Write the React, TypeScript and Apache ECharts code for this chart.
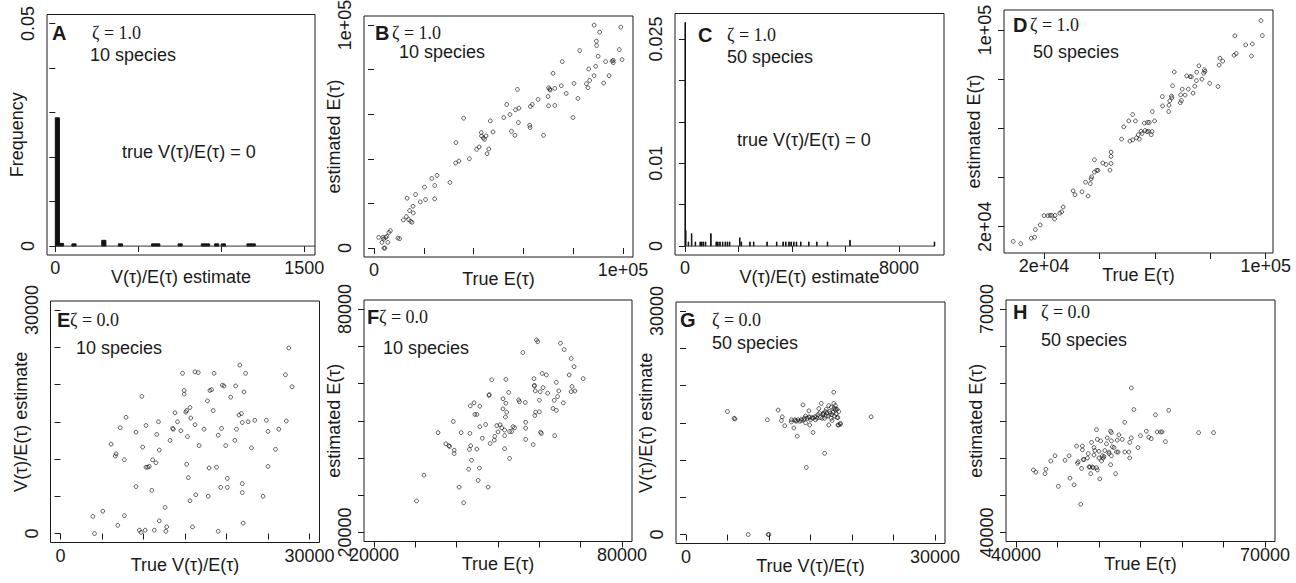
import React, { useEffect, useRef } from "react";
import * as echarts from "echarts";

const SANS = '"Liberation Sans", Arial, Helvetica, sans-serif';
const SERIF = '"Liberation Serif", "Times New Roman", serif';
const INK = "#1a1a1a";

// ---------- DATA ----------
// Panel A: histogram of V/E estimate (zeta=1.0, 10 species)
const histA_binWidth = 25;
const histA_start = [0, 25, 100, 280, 380, 580, 605, 740, 880, 905, 960, 1000, 1155, 1180];
const histA_density = [0.0288, 0.0006, 0.0005, 0.0013, 0.0005, 0.0005, 0.0005, 0.0005, 0.0005, 0.0005, 0.0005, 0.0005, 0.0005, 0.0005];
const histA_end = 1565;

// Panel C: histogram of V/E estimate (zeta=1.0, 50 species)
const histC_binWidth = 20;
const histC_start = [0, 20, 120, 240, 380, 560, 620, 680, 760, 960, 1160, 1220, 1300, 1400, 1500, 1580, 1660, 2040, 2100, 2420, 2560, 3060, 3420, 3660, 3760, 3880, 3960, 4060, 4160, 4320, 4620, 4920, 5320, 6160, 9320];
const histC_density = [0.027, 0.0019, 0.0005, 0.0015, 0.0005, 0.0005, 0.0005, 0.0005, 0.0005, 0.0015, 0.0005, 0.0005, 0.0005, 0.0005, 0.0005, 0.0005, 0.0005, 0.001, 0.0005, 0.0005, 0.0005, 0.0005, 0.0005, 0.0005, 0.0005, 0.0005, 0.0005, 0.0005, 0.0005, 0.0005, 0.0005, 0.0005, 0.0005, 0.0007, 0.0005];
const histC_end = 9340;

// Panel B: true E vs estimated E (zeta=1.0, 10 species)
const pointsB = [[1900,4800],[3200,2550],[3600,4800],[4000,0],[4400,0],[3900,4050],[4700,4800],[5200,5250],[5600,2550],[6000,7050],[6600,7800],[9600,4500],[10300,4200],[11800,12600],[13000,14100],[13300,22350],[13900,12750],[14300,16800],[14700,12000],[15300,11550],[15700,18750],[15800,15750],[16700,24000],[18600,20700],[20300,27300],[20700,21750],[23200,31200],[24400,22050],[24400,28050],[25300,32550],[30500,29400],[32800,38100],[32900,47250],[34100,39000],[36000,58200],[38300,40050],[41200,44250],[42200,45300],[43100,51750],[43200,50250],[43900,49350],[44400,48750],[45000,50250],[45400,42300],[46100,44400],[46700,57000],[47800,52050],[52100,58500],[53300,64350],[54600,59850],[55200,52350],[56600,50550],[56800,61950],[57600,71100],[58200,62700],[58000,56250],[62500,55050],[62700,54000],[62800,63450],[63600,64350],[65900,66600],[68100,50550],[69900,67950],[70100,71850],[70600,71250],[70100,63750],[70700,70800],[71900,78300],[72600,71550],[72600,63900],[75200,72750],[75600,83550],[77200,69300],[79900,58500],[80300,73800],[81900,67050],[82600,88500],[85300,73650],[85900,71850],[86200,80250],[86600,75150],[88400,77250],[88400,99900],[89000,81450],[89300,92700],[89400,90750],[90000,85950],[90600,96750],[92200,73950],[93000,83550],[94400,77250],[95600,83850],[96100,83100],[96100,84150],[98500,88950],[99100,99000],[99600,84450]];

// Panel D: true E vs estimated E (zeta=1.0, 50 species)
const pointsD = [[8900,14000],[11600,13100],[15400,15300],[16600,15700],[16900,18800],[18600,20700],[20000,24500],[21400,24500],[22200,24600],[22800,24600],[23800,23100],[24000,24600],[25700,25500],[26400,26000],[26900,28000],[30500,34600],[31200,33000],[33700,34200],[35000,38100],[35900,32500],[36700,37500],[37000,39400],[37200,40300],[38200,47200],[38200,42200],[39000,42900],[39500,42900],[41200,45900],[42400,45300],[43800,43000],[44200,45700],[44200,48600],[44200,50300],[48000,55600],[48800,60600],[50600,63000],[51000,54800],[52000,65600],[52000,55300],[53000,63000],[53400,56100],[54000,57400],[54400,55600],[55000,58800],[55400,57900],[56200,62100],[56500,59100],[57200,58600],[57400,62400],[57700,58800],[58000,62400],[58700,57400],[59000,58700],[59100,66800],[59900,63000],[62700,72900],[62800,69100],[65000,66800],[65100,69400],[65400,71200],[66000,73100],[66100,72400],[66400,77300],[67000,82900],[69200,70400],[69300,73600],[69600,71300],[69900,75900],[70900,73500],[71500,81300],[72100,75900],[72700,81000],[73200,81000],[73800,74300],[74400,77100],[75000,79400],[75100,82800],[75900,85400],[77000,80000],[77600,82400],[77900,83800],[78100,83100],[79800,78300],[82800,77000],[83200,85700],[83500,88500],[84500,87300],[88600,89700],[88900,97600],[89400,90400],[92800,93900],[94900,89400],[95200,94300],[98300,103800],[98800,97700]];

// Panel E: true V/E vs V/E estimate (zeta=0.0, 10 species)
const pointsE = [[3900,2300],[4100,0],[5100,3000],[6100,12000],[6600,10400],[6700,10700],[6900,1100],[7200,14200],[7700,9900],[7700,2400],[7900,15600],[9100,6300],[9100,13600],[9500,450],[9700,150],[9800,18400],[9900,11600],[10200,450],[10300,14500],[10300,8900],[10500,8900],[10700,9000],[11000,5800],[11100,9900],[11300,450],[11500,9500],[11600,13300],[11800,15000],[11900,11200],[11900,1700],[12600,3500],[12700,300],[12800,900],[13200,12500],[13500,14100],[13600,14000],[13800,16200],[14100,15000],[14500,13800],[14700,21500],[14900,19200],[14900,18700],[15100,16300],[15200,16500],[15300,13000],[15200,9300],[15400,7500],[15600,16900],[15600,4400],[15700,15500],[15900,900],[16200,14600],[16200,21700],[16300,5200],[16600,21600],[16700,11800],[17300,14000],[17700,17800],[17800,5000],[17900,8800],[18000,19200],[18200,19300],[18400,16500],[18500,21500],[19000,13200],[18800,8900],[19000,300],[19300,6200],[19400,14100],[19500,19900],[19700,19800],[19900,11800],[20100,7400],[20100,6200],[20500,18300],[21000,12500],[21100,19800],[21200,14000],[21500,15900],[21600,22600],[21800,16100],[21900,14900],[21900,6700],[21900,5500],[22000,1400],[22100,19000],[22300,21500],[22600,15000],[23000,11500],[23400,15200],[24400,5000],[24800,15200],[25000,13700],[25000,9000],[25900,11300],[26300,14000],[27100,21300],[27200,15100],[27500,24900],[27900,19700]];

// Panel F: true E vs estimated E (zeta=0.0, 10 species)
const pointsF = [[30300,28500],[32100,35400],[35500,46800],[37400,43800],[38100,43300],[38300,43100],[39200,49800],[39400,42100],[39400,41200],[40600,32200],[41100,46800],[41700,28000],[42900,37000],[43100,42300],[43200,46600],[43400,43300],[43600,39400],[43300,54000],[44200,54800],[44400,51700],[44900,51700],[44900,42400],[45200,34000],[45500,37300],[45600,53900],[45600,48400],[46200,45300],[47000,49000],[47600,32200],[47800,56800],[47900,57000],[48100,43900],[48500,61000],[49100,44800],[49200,45800],[49700,48700],[50000,47000],[50500,48900],[50900,48100],[51200,55900],[51200,53200],[51600,42500],[51600,46000],[51600,47500],[51800,51000],[51900,61100],[51900,54700],[52100,52300],[52600,57600],[52800,39900],[52800,47100],[53300,47100],[53600,48400],[54000,48100],[55000,55600],[55200,55100],[56000,68300],[56600,54900],[56700,49600],[56700,48000],[56700,45000],[58500,43600],[58700,61300],[58800,59500],[58800,59300],[58900,51400],[59000,58000],[59100,52300],[59300,71700],[59600,71200],[60000,52400],[60000,55500],[60200,57800],[60300,46900],[60500,46600],[60700,62700],[60900,58900],[61700,62300],[62000,57400],[63300,53300],[63700,46000],[63600,55500],[64100,60300],[64100,52800],[64400,56500],[64700,58000],[65100,70800],[65800,54800],[66000,69100],[67200,62300],[67700,57800],[67700,66700],[67900,59200],[68400,64500],[68600,58000],[70600,61300]];

// Panel G: true V/E vs V/E estimate (zeta=0.0, 50 species)
const pointsG = [[5000,16500],[5800,15600],[5900,15500],[7500,0],[9800,15400],[9900,0],[10000,0],[11100,16700],[11500,15300],[11600,15800],[11900,14600],[12700,15400],[12700,15100],[13000,14300],[13100,15400],[13200,15300],[13300,15200],[13400,13200],[13500,15400],[13700,15200],[13900,15500],[13900,15300],[14100,17400],[14200,15400],[14300,15600],[14400,15900],[14400,15000],[14500,9000],[14600,15600],[14800,16600],[14800,15800],[14900,15700],[14900,14700],[15000,15400],[15200,15700],[15300,13700],[15300,15600],[15500,15800],[15600,15400],[15700,15800],[15800,15600],[15900,16100],[16000,16900],[16100,16300],[16200,15700],[16300,17600],[16400,15600],[16500,16100],[16500,16200],[16600,16300],[16700,10900],[16700,15600],[16800,16500],[16900,15900],[16900,16800],[17000,16300],[17100,15900],[17200,14700],[17200,17300],[17300,16500],[17400,16300],[17500,15600],[17500,17100],[17600,16100],[17600,15300],[17700,16400],[17800,17600],[17800,19100],[17800,16900],[17900,15900],[18000,16900],[18000,16700],[18000,17300],[18100,16200],[18200,15700],[18200,16800],[18300,14700],[18300,15700],[18400,16500],[18400,14700],[18600,14800],[18600,14900],[22300,15800]];

// Panel H: true E vs estimated E (zeta=0.0, 50 species)
const pointsH = [[42100,48400],[42400,48100],[43500,47900],[43600,48500],[44200,49600],[44700,50300],[45100,46200],[45900,49700],[46400,50300],[46500,47300],[47000,46400],[47300,51600],[47400,49300],[47500,49500],[47800,43800],[47900,48600],[48000,51100],[48000,51600],[48100,49800],[48200,49800],[48600,50000],[48700,50600],[48800,48800],[48900,48800],[49000,47900],[49100,52100],[49200,48800],[49300,48700],[49400,50400],[49400,51400],[49500,51000],[49700,53800],[49700,48700],[49800,52500],[49800,48400],[50000,50000],[50000,50900],[50100,47200],[50200,52300],[50300,49600],[50400,50300],[50500,50000],[50600,50200],[50700,51000],[50900,51900],[51000,52700],[51200,50800],[51200,50600],[51400,49100],[51400,53600],[51500,53400],[51500,52300],[51500,50300],[51600,51500],[51800,51400],[52000,47900],[52100,50800],[52200,52400],[52300,50800],[52400,53100],[52800,52500],[53100,54800],[53100,50800],[53600,50800],[53700,52100],[53700,50000],[53900,52700],[53900,59400],[54200,56500],[54700,51400],[55000,53000],[55700,53600],[56000,52800],[56300,52600],[56800,55800],[57000,53500],[57400,53500],[57600,53500],[58000,52200],[58400,56400],[62000,53400],[63800,53400]];

// Tick values and labels
const ticksA_x = [0, 500, 1000, 1500];
const labelsA_x = ["0", "1500"];
const ticksA_y = [0, 0.01, 0.02, 0.03, 0.04, 0.05];
const labelsA_y = ["0", "0.05"];
const ticksBD = [0, 20000, 40000, 60000, 80000, 100000];
const labelsB = ["0", "1e+05"];
const ticksC_x = [0, 2000, 4000, 6000, 8000];
const labelsC_x = ["0", "8000"];
const ticksC_y = [0, 0.005, 0.01, 0.015, 0.02, 0.025];
const labelsC_y = ["0", "0.01", "0.025"];
const ticksD = [20000, 40000, 60000, 80000, 100000];
const labelsD = ["2e+04", "1e+05"];
const ticksEG = [0, 5000, 10000, 15000, 20000, 25000, 30000];
const labelsEG = ["0", "30000"];
const ticksF = [20000, 30000, 40000, 50000, 60000, 70000, 80000];
const labelsF = ["20000", "80000"];
const ticksH = [40000, 45000, 50000, 55000, 60000, 65000, 70000];
const labelsH = ["40000", "70000"];

// ---------- LAYOUT ----------
type Ax = { min: number; max: number; ticks: number[]; labels: string[]; name: string };
type Panel = {
  letter: string; zeta: string; species: string; trueNote?: boolean;
  box: [number, number, number, number];
  x: Ax; y: Ax;
  ann: { letter: [number, number]; zeta: [number, number]; species: [number, number]; note?: [number, number] };
};

const labelValue = (t: string) => Number(t);

const panels: Panel[] = [
  { letter: "A", zeta: "ζ = 1.0", species: "10 species", trueNote: true, box: [47, 14.5, 268, 240.5],
    x: { min: -50, max: 1565, ticks: ticksA_x, labels: labelsA_x, name: "V(τ)/E(τ) estimate" },
    y: { min: -0.002, max: 0.052, ticks: ticksA_y, labels: labelsA_y, name: "Frequency" },
    ann: { letter: [52, 33], zeta: [92, 33], species: [90, 55], note: [122, 152] } },
  { letter: "B", zeta: "ζ = 1.0", species: "10 species", box: [364, 16, 269, 241],
    x: { min: -4000, max: 104000, ticks: ticksBD, labels: labelsB, name: "True E(τ)" },
    y: { min: -4000, max: 104000, ticks: ticksBD, labels: labelsB, name: "estimated E(τ)" },
    ann: { letter: [375, 33], zeta: [392, 33], species: [399, 52] } },
  { letter: "C", zeta: "ζ = 1.0", species: "50 species", trueNote: true, box: [675, 13.5, 269, 241.5],
    x: { min: -372, max: 9685, ticks: ticksC_x, labels: labelsC_x, name: "V(τ)/E(τ) estimate" },
    y: { min: -0.00108, max: 0.02808, ticks: ticksC_y, labels: labelsC_y, name: "" },
    ann: { letter: [698, 35], zeta: [727, 35], species: [727, 57], note: [737, 140] } },
  { letter: "D", zeta: "ζ = 1.0", species: "50 species", box: [1004, 10, 269, 243],
    x: { min: 5560, max: 102650, ticks: ticksD, labels: labelsD, name: "True E(τ)" },
    y: { min: 9300, max: 108100, ticks: ticksD, labels: labelsD, name: "estimated E(τ)" },
    ann: { letter: [1013, 25], zeta: [1030, 25], species: [1033, 52] } },
  { letter: "E", zeta: "ζ = 0.0", species: "10 species", box: [50.5, 301, 269, 241.5],
    x: { min: -1200, max: 31200, ticks: ticksEG, labels: labelsEG, name: "True V(τ)/E(τ)" },
    y: { min: -1200, max: 31200, ticks: ticksEG, labels: labelsEG, name: "V(τ)/E(τ) estimate" },
    ann: { letter: [57, 320], zeta: [70, 320], species: [76, 348] } },
  { letter: "F", zeta: "ζ = 0.0", species: "10 species", box: [364, 300, 268, 241.5],
    x: { min: 17600, max: 82400, ticks: ticksF, labels: labelsF, name: "True E(τ)" },
    y: { min: 17600, max: 82400, ticks: ticksF, labels: labelsF, name: "estimated E(τ)" },
    ann: { letter: [367, 317], zeta: [379, 317], species: [383, 348] } },
  { letter: "G", zeta: "ζ = 0.0", species: "50 species", box: [676, 302, 269, 241.5],
    x: { min: -1200, max: 31200, ticks: ticksEG, labels: labelsEG, name: "True V(τ)/E(τ)" },
    y: { min: -1200, max: 31200, ticks: ticksEG, labels: labelsEG, name: "V(τ)/E(τ) estimate" },
    ann: { letter: [680, 320], zeta: [712, 320], species: [712, 343] } },
  { letter: "H", zeta: "ζ = 0.0", species: "50 species", box: [1006, 300, 269, 241.5],
    x: { min: 38800, max: 71200, ticks: ticksH, labels: labelsH, name: "True E(τ)" },
    y: { min: 38800, max: 71200, ticks: ticksH, labels: labelsH, name: "estimated E(τ)" },
    ann: { letter: [1013, 312], zeta: [1041, 312], species: [1041, 340] } },
];

function labelLookup(labels: string[]) {
  const vals = labels.map(labelValue);
  return (v: number) => {
    for (let k = 0; k < vals.length; k++) {
      if (Math.abs(vals[k] - v) <= 1e-9 * Math.max(1, Math.abs(v))) return labels[k];
    }
    return "";
  };
}

function axisCommon(i: number, a: Ax, isY: boolean) {
  return {
    type: "value",
    gridIndex: i,
    min: a.min,
    max: a.max,
    axisLine: { show: false },
    splitLine: { show: false },
    axisTick: { show: true, length: 6, lineStyle: { color: INK, width: 1 }, customValues: a.ticks },
    axisLabel: isY
      ? { show: false }
      : {
          show: true,
          customValues: a.labels.map(labelValue),
          formatter: labelLookup(a.labels),
          margin: 4,
          hideOverlap: false,
          fontSize: 18,
          fontFamily: SANS,
          color: INK,
        },
    name: a.name,
    nameLocation: "middle",
    nameGap: isY ? 21 : 13,
    nameMoveOverlap: false,
    nameTextStyle: { fontSize: 18, fontFamily: SANS, color: INK },
  };
}

function histSeries(i: number, starts: number[], dens: number[], width: number) {
  return {
    type: "custom",
    xAxisIndex: i,
    yAxisIndex: i,
    silent: true,
    data: starts.map((s, k) => [s, s + width, dens[k]]),
    encode: { x: [0, 1], y: 2 },
    renderItem: (_p: any, api: any) => {
      const a = api.coord([api.value(0), api.value(2)]);
      const b = api.coord([api.value(1), 0]);
      return {
        type: "rect",
        shape: { x: a[0], y: a[1], width: Math.max(b[0] - a[0], 0.3), height: b[1] - a[1] },
        style: { fill: "#111", stroke: "#111", lineWidth: 1 },
      };
    },
  };
}

function baseline(i: number, end: number) {
  return {
    type: "line", xAxisIndex: i, yAxisIndex: i, silent: true, symbol: "none",
    data: [[0, 0], [end, 0]],
    lineStyle: { color: "#333", width: 1 },
  };
}

function scatter(i: number, pts: number[][]) {
  return {
    type: "scatter", xAxisIndex: i, yAxisIndex: i, silent: true,
    data: pts, symbol: "circle", symbolSize: 3.8,
    itemStyle: { color: "rgba(255,255,255,0)", borderColor: "#1a1a1a", borderWidth: 0.9 },
  };
}

function annotationGraphics() {
  const graphic: any[] = [];
  panels.forEach((p) => {
    graphic.push({ type: "text", x: p.ann.letter[0], y: p.ann.letter[1], z: 100,
      style: { text: p.letter, font: `bold 20px ${SANS}`, fill: INK, verticalAlign: "middle", align: "left" } });
    graphic.push({ type: "text", x: p.ann.zeta[0], y: p.ann.zeta[1], z: 100,
      style: { text: p.zeta, font: `18px ${SERIF}`, fill: INK, verticalAlign: "middle", align: "left" } });
    graphic.push({ type: "text", x: p.ann.species[0], y: p.ann.species[1], z: 100,
      style: { text: p.species, font: `18px ${SANS}`, fill: INK, verticalAlign: "middle", align: "left" } });
    if (p.trueNote && p.ann.note) {
      graphic.push({ type: "text", x: p.ann.note[0], y: p.ann.note[1], z: 100,
        style: { text: "true V(τ)/E(τ) = 0", font: `18px ${SANS}`, fill: INK, verticalAlign: "middle", align: "left" } });
    }
  });
  return graphic;
}

function buildOption() {
  const grid = panels.map((p) => ({
    left: p.box[0], top: p.box[1], width: p.box[2], height: p.box[3],
    show: true, borderColor: INK, borderWidth: 1, backgroundColor: "transparent",
    containLabel: false, outerBoundsMode: "none",
  }));
  const xAxis = panels.map((p, i) => axisCommon(i, p.x, false));
  const yAxis = panels.map((p, i) => axisCommon(i, p.y, true));
  const series: any[] = [
    baseline(0, histA_end),
    histSeries(0, histA_start, histA_density, histA_binWidth),
    scatter(1, pointsB),
    baseline(2, histC_end),
    histSeries(2, histC_start, histC_density, histC_binWidth),
    scatter(3, pointsD),
    scatter(4, pointsE),
    scatter(5, pointsF),
    scatter(6, pointsG),
    scatter(7, pointsH),
  ];
  return { animation: false, backgroundColor: "#fff", grid, xAxis, yAxis, series, graphic: annotationGraphics() };
}

// rotated y tick labels, positioned through each axis' scale (convertToPixel)
function yLabelGraphics(chart: any) {
  const out: any[] = [];
  panels.forEach((p, i) => {
    p.y.labels.forEach((t) => {
      const pt = chart.convertToPixel({ gridIndex: i }, [p.x.min, labelValue(t)]);
      out.push({
        type: "text",
        x: pt[0] - 19,
        y: pt[1],
        rotation: Math.PI / 2,
        z: 90,
        style: { text: t, font: `18px ${SANS}`, fill: INK, align: "center", verticalAlign: "middle" },
      });
    });
  });
  return out;
}

export default function App() {
  const ref = useRef<HTMLDivElement>(null);
  useEffect(() => {
    if (!ref.current) return;
    const chart = echarts.init(ref.current, undefined, { renderer: "svg" });
    chart.setOption(buildOption() as any);
    chart.setOption({ graphic: [...annotationGraphics(), ...yLabelGraphics(chart)] } as any, { replaceMerge: ["graphic"] });
    return () => chart.dispose();
  }, []);
  return (
    <div
      ref={ref}
      style={{ position: "fixed", left: 0, top: 0, width: 1296, height: 583, background: "#fff" }}
    />
  );
}
